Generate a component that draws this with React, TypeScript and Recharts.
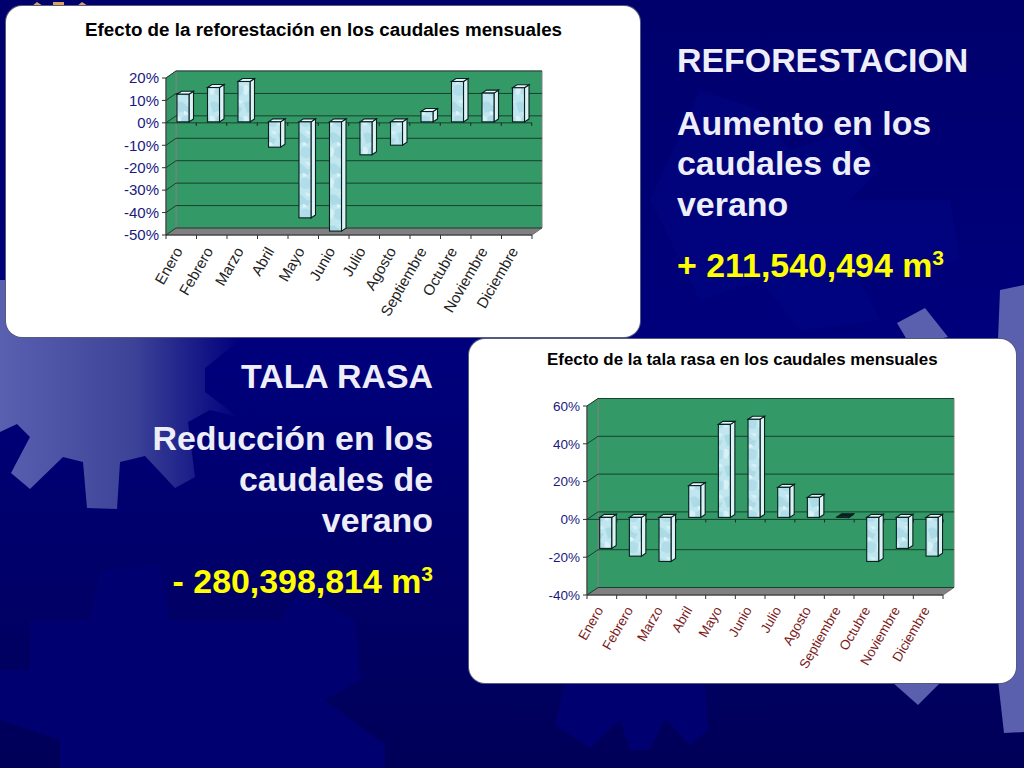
import React from "react";
import { BarChart, Bar, XAxis, YAxis, CartesianGrid } from "recharts";

const months = ["Enero","Febrero","Marzo","Abril","Mayo","Junio","Julio","Agosto","Septiembre","Octubre","Noviembre","Diciembre"];
const reforestacion = [12.3,15.3,18,-11.3,-42.8,-48.7,-14.7,-10.4,4.6,18,12.8,15.2];
const talaRasa = [-16.4,-20.5,-23.3,16.8,49.2,51.9,15.9,10.6,0.3,-23.3,-16.4,-20.5];
const ticksReforestacion = [-50,-40,-30,-20,-10,0,10,20];
const ticksTalaRasa = [-40,-20,0,20,40,60];
const tituloReforestacion = "Efecto de la reforestación en los caudales mensuales";
const tituloTalaRasa = "Efecto de la tala rasa en los caudales mensuales";

const FONT = '"Liberation Sans", Arial, sans-serif';

function toRows(values: number[]) {
  return months.map((m, i) => ({ m, v: values[i] }));
}

function Wall({ x, y, w, h, depthX, depthY, cw, ch, pid }: any) {
  return (
    <svg width={cw} height={ch} style={{ position: "absolute", left: 0, top: 0 }}>
      <defs>
        <pattern id={pid} width="17" height="31" patternUnits="userSpaceOnUse">
          <rect width="17" height="31" fill="#c0e7ef" />
          <path d="M0 4 Q5 0 9 5 T16 8 L13 14 Q7 11 3 14 Z" fill="#a8d8e5" opacity="0.8" />
          <path d="M6 18 Q11 15 16 19 L15 27 Q9 30 5 25 Z" fill="#acdbe7" opacity="0.8" />
          <path d="M10 1 Q14 0 16 3 L13 5 Z" fill="#d6f1f6" />
          <path d="M0 17 Q4 16 5 21 L3 27 L0 26 Z" fill="#d8f1f6" />
          <path d="M8 12 Q11 12 12 15 L8 16 Z" fill="#dcf3f7" />
        </pattern>
      </defs>
      <polygon points={`${x + depthX},${y - depthY} ${x + w + depthX},${y - depthY} ${x + w + depthX},${y + h - depthY} ${x + depthX},${y + h - depthY}`} fill="#339966" stroke="#808080" strokeWidth={1} />
      <polygon points={`${x},${y} ${x + depthX},${y - depthY} ${x + depthX},${y + h - depthY} ${x},${y + h}`} fill="#339966" stroke="#808080" strokeWidth={1} />
      <polygon points={`${x},${y + h} ${x + depthX},${y + h - depthY} ${x + w + depthX},${y + h - depthY} ${x + w},${y + h}`} fill="#808080" stroke="#707070" strokeWidth={1} />
    </svg>
  );
}

function makeBarShape(cfg: { dx: number; dy: number; ddx: number; ddy: number; band: number; pid: string }) {
  return function BarShape(props: any) {
    const { x, y, width, height, payload } = props;
    const a = Math.min(y, y + height);
    const b = Math.max(y, y + height);
    const zero = payload.v >= 0 ? b : a;
    const cx = x + width / 2;
    const L = x + cfg.dx;
    const R = L + width;
    const T = a + cfg.dy;
    const B = b + cfg.dy;
    const d = cfg.ddx;
    const e = cfg.ddy;
    const stroke = "#06201f";
    return (
      <g>
        <line x1={cx + cfg.band / 2} x2={cx + cfg.band / 2} y1={zero} y2={zero + 3} stroke="#222" strokeWidth={1} />
        <polygon points={`${R},${T} ${R + d},${T - e} ${R + d},${B - e} ${R},${B}`} fill="#dcf2f5" stroke={stroke} strokeWidth={1.1} />
        <polygon points={`${L},${T} ${L + d},${T - e} ${R + d},${T - e} ${R},${T}`} fill={B - T < 2 ? "#06201f" : "#e6f7f9"} stroke={stroke} strokeWidth={1.1} />
        <rect x={L} y={T} width={width} height={B - T} fill={`url(#${cfg.pid})`} stroke={stroke} strokeWidth={1.1} />
      </g>
    );
  };
}

function makeXTick(cfg: { band: number; color: string; size: number; gap: number; angle: number; axisY: number; shift: number }) {
  return function XTick(props: any) {
    const { x, payload, index } = props;
    const ly = cfg.axisY + cfg.gap;
    const lx = x + cfg.shift;
    return (
      <g>
        {index === 0 && <line x1={x - cfg.band / 2} x2={x - cfg.band / 2} y1={cfg.axisY} y2={cfg.axisY + 4} stroke="#333" />}
        <line x1={x + cfg.band / 2} x2={x + cfg.band / 2} y1={cfg.axisY} y2={cfg.axisY + 4} stroke="#333" />
        <text x={lx} y={ly} textAnchor="end" fontFamily={FONT} fontSize={cfg.size} fill={cfg.color} transform={`rotate(${cfg.angle} ${lx} ${ly})`}>
          {payload.value}
        </text>
      </g>
    );
  };
}

function Chart3D(props: {
  data: number[]; ticks: number[]; domain: [number, number]; width: number; height: number;
  left: number; top: number; plotW: number; plotH: number; depthX: number; depthY: number;
  dx: number; dy: number; labelColor: string; tickColor: string; tickSize: number; labelSize: number; labelGap: number; pid: string;
}) {
  const band = props.plotW / 12;
  const yAxisW = 60;
  const xAxisH = 20;
  const bottom = props.height - props.top - props.plotH - xAxisH;
  const [lo, hi] = props.domain;
  const zeroY = props.top + (props.plotH * hi) / (hi - lo);
  const Shape = makeBarShape({ dx: props.dx, dy: props.dy, ddx: 4.5, ddy: 3, band, pid: props.pid });
  const Tick = makeXTick({ band, color: props.labelColor, size: props.labelSize, gap: props.labelGap, angle: -60, axisY: props.top + props.plotH, shift: 2 });
  const renderGrid = (g: any) => (
    <g key={g.key}>
      <line x1={g.x1} y1={g.y1} x2={g.x1 + props.depthX} y2={g.y1 - props.depthY} stroke="#17402e" strokeWidth={1} />
      <line x1={g.x1 + props.depthX} y1={g.y1 - props.depthY} x2={g.x2 + props.depthX} y2={g.y2 - props.depthY} stroke="#17402e" strokeWidth={1} />
      {Math.abs(g.y1 - zeroY) < 1 && <line x1={g.x1} y1={g.y1} x2={g.x2} y2={g.y2} stroke="#17402e" strokeWidth={1} />}
    </g>
  );
  return (
    <div style={{ position: "absolute", left: 0, top: 0 }}>
      <Wall x={props.left} y={props.top} w={props.plotW} h={props.plotH} depthX={props.depthX} depthY={props.depthY} cw={props.width} ch={props.height} pid={props.pid} />
      <BarChart
        width={props.width}
        height={props.height}
        data={toRows(props.data)}
        margin={{ left: props.left - yAxisW, top: props.top, right: props.width - props.left - props.plotW, bottom }}
        barCategoryGap="0%"
        barSize={12}
      >
        <CartesianGrid vertical={false} horizontal={renderGrid} />
        <XAxis dataKey="m" interval={0} tick={<Tick />} tickLine={false} height={xAxisH} axisLine={{ stroke: "#333" }} />
        <YAxis
          width={yAxisW}
          domain={props.domain}
          ticks={props.ticks}
          interval={0}
          tickFormatter={(v: number) => `${v}%`}
          tick={{ fill: props.tickColor, fontFamily: FONT, fontSize: props.tickSize }}
          tickSize={4}
          tickMargin={3}
          tickLine={{ stroke: "#333" }}
          axisLine={{ stroke: "#333" }}
        />
        <Bar dataKey="v" isAnimationActive={false} shape={<Shape />} />
      </BarChart>
    </div>
  );
}

function Background() {
  return (
    <svg width={1024} height={768} style={{ position: "absolute", left: 0, top: 0 }}>
      <defs>
        <linearGradient id="bg" x1="0" y1="0" x2="0" y2="1">
          <stop offset="0" stopColor="#00006c" />
          <stop offset="0.45" stopColor="#00007c" />
          <stop offset="1" stopColor="#000058" />
        </linearGradient>
        <linearGradient id="gearL" gradientUnits="userSpaceOnUse" x1="0" y1="0" x2="240" y2="0">
          <stop offset="0" stopColor="#5a60b0" />
          <stop offset="0.55" stopColor="#3d4498" />
          <stop offset="1" stopColor="#00007c" />
        </linearGradient>
      </defs>
      <rect width={1024} height={768} fill="url(#bg)" />
      <g fill="#000a8c" opacity={0.3}>
        <polygon points="700,90 760,110 790,150 850,130 880,170 850,200 950,200 960,260 860,280 880,320 800,330 760,280 700,300 650,200" />
      </g>
      <g fill="#000070">
        <polygon points="30,620 90,620 100,570 160,565 170,620 280,620 300,590 355,620 360,680 325,700 385,745 385,768 60,768 60,740 0,720 0,670 30,670" />
        <polygon points="565,683 705,683 708,730 690,745 665,718 650,750 630,750 620,720 590,748 555,725" />
      </g>
      <polygon
        fill="url(#gearL)"
        points="0,280 250,280 240,340 205,368 205,392 238,417 210,410 188,422 195,477 175,488 145,456 120,462 117,509 87,508 83,462 63,457 30,489 11,473 30,437 17,424 0,432"
      />
      <g fill="#5a60ae">
        <polygon points="1000,290 1024,285 1024,732 1004,733 998,680 998,340" />
        <polygon points="897,323 925,308 948,337 910,345" />
        <polygon points="892,682 941,682 918,705" />
      </g>
      <g fill="#d9a066">
        <polygon points="32,6 37,2 43,6" />
        <rect x={53} y={2} width={11} height={4} />
        <polygon points="77,6 82,2 88,6" />
      </g>
    </svg>
  );
}

function SlideText() {
  const white = "#eeeef8";
  const base = { fontFamily: FONT, fontWeight: 700, fontSize: 33.9 } as const;
  return (
    <svg width={1024} height={768} style={{ position: "absolute", left: 0, top: 0, pointerEvents: "none" }}>
      <g {...base} fill={white}>
        <text x={677} y={72}>REFORESTACION</text>
        <text x={677} y={135}>Aumento en los</text>
        <text x={677} y={175}>caudales de</text>
        <text x={677} y={216}>verano</text>
      </g>
      <text {...base} x={677} y={277} fill="#ffff00">
        + 211,540,494 m<tspan fontSize={21} dy={-12}>3</tspan>
      </text>
      <g {...base} fill={white} textAnchor="end">
        <text x={433} y={388}>TALA RASA</text>
        <text x={433} y={450}>Reducción en los</text>
        <text x={433} y={491}>caudales de</text>
        <text x={433} y={532}>verano</text>
      </g>
      <text {...base} x={433} y={593} fill="#ffff00" textAnchor="end">
        - 280,398,814 m<tspan fontSize={21} dy={-12}>3</tspan>
      </text>
    </svg>
  );
}

const panelStyle = (l: number, t: number, w: number, h: number): React.CSSProperties => ({
  position: "absolute", left: l, top: t, width: w, height: h, background: "#fff", borderRadius: 16,
  boxShadow: "0 0 0 1px #555a80", overflow: "hidden",
});

const titleStyle = (top: number, left: number, size: number): React.CSSProperties => ({
  position: "absolute", left, top, fontFamily: FONT, fontWeight: 700, fontSize: size, color: "#000", whiteSpace: "nowrap", zIndex: 2,
});

export default function App() {
  return (
    <div style={{ position: "fixed", left: 0, top: 0, width: 1024, height: 768, overflow: "hidden", background: "#000080" }}>
      <Background />
      <div style={panelStyle(6, 6, 634, 331)}>
        <div style={titleStyle(13, 79, 18.8)}>{tituloReforestacion}</div>
        <Chart3D
          data={reforestacion} ticks={ticksReforestacion} domain={[-50, 20]}
          width={634} height={331} left={160} top={72} plotW={366} plotH={157}
          depthX={10} depthY={7} dx={2} dy={-1}
          labelColor="#222" tickColor="#1a1a80" tickSize={15} labelSize={15} labelGap={16} pid="mottleA"
        />
      </div>
      <div style={panelStyle(469, 339, 547, 344)}>
        <div style={titleStyle(11, 78, 16.9)}>{tituloTalaRasa}</div>
        <Chart3D
          data={talaRasa} ticks={ticksTalaRasa} domain={[-40, 60]}
          width={547} height={344} left={118} top={67} plotW={356} plotH={189}
          depthX={11} depthY={7.5} dx={3.7} dy={-2}
          labelColor="#7a1a1a" tickColor="#1a1a80" tickSize={13.5} labelSize={13.5} labelGap={15} pid="mottleB"
        />
      </div>
      <SlideText />
    </div>
  );
}
